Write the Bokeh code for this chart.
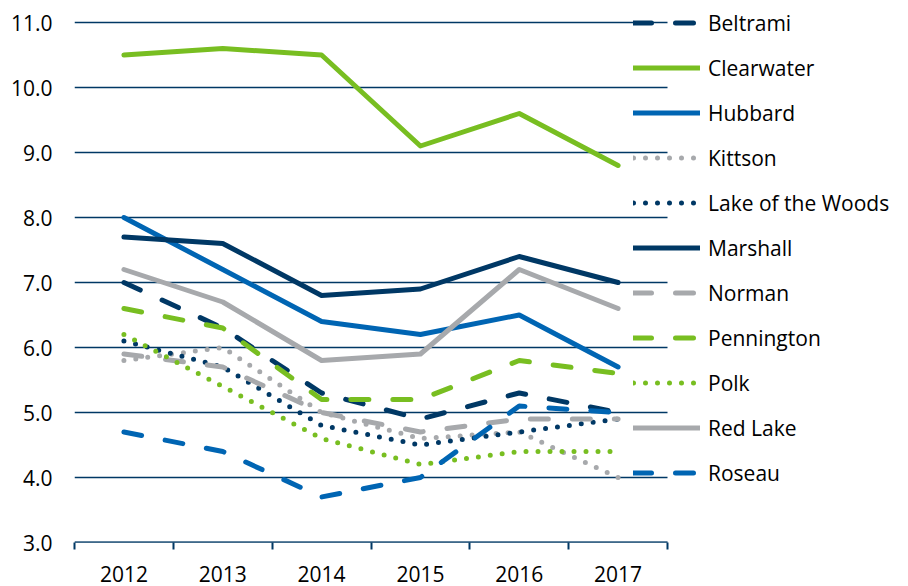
from bokeh.plotting import figure
from bokeh.models import (Range1d, FixedTicker, NumeralTickFormatter, Legend,
                          LegendItem, ColumnDataSource)
from bokeh.embed import file_html
from bokeh.resources import INLINE

years = ["2012", "2013", "2014", "2015", "2016", "2017"]
y_ticks = [3, 4, 5, 6, 7, 8, 9, 10, 11]

beltrami = [7.0, 6.3, 5.3, 4.9, 5.3, 5.0]
clearwater = [10.5, 10.6, 10.5, 9.1, 9.6, 8.8]
hubbard = [8.0, 7.2, 6.4, 6.2, 6.5, 5.7]
kittson = [5.8, 6.0, 5.0, 4.6, 4.7, 4.0]
lake_of_the_woods = [6.1, 5.7, 4.8, 4.5, 4.7, 4.9]
marshall = [7.7, 7.6, 6.8, 6.9, 7.4, 7.0]
norman = [5.9, 5.7, 5.0, 4.7, 4.9, 4.9]
pennington = [6.6, 6.3, 5.2, 5.2, 5.8, 5.6]
polk = [6.2, 5.4, 4.6, 4.2, 4.4, 4.4]
red_lake = [7.2, 6.7, 5.8, 5.9, 7.2, 6.6]
roseau = [4.7, 4.4, 3.7, 4.0, 5.1, 5.0]

NAVY = "#003865"
GREEN = "#78BE21"
BLUE = "#0065B3"
GRAY = "#A7A9AC"
DASH = "18 24"
DOT = "0 12"

series = [
    ("Beltrami", beltrami, NAVY, DASH),
    ("Clearwater", clearwater, GREEN, "solid"),
    ("Hubbard", hubbard, BLUE, "solid"),
    ("Kittson", kittson, GRAY, DOT),
    ("Lake of the Woods", lake_of_the_woods, NAVY, DOT),
    ("Marshall", marshall, NAVY, "solid"),
    ("Norman", norman, GRAY, DASH),
    ("Pennington", pennington, GREEN, DASH),
    ("Polk", polk, GREEN, DOT),
    ("Red Lake", red_lake, GRAY, "solid"),
    ("Roseau", roseau, BLUE, DASH),
]

FONT = "Open Sans"

# layout (pixels)
W, H = 892, 586
LEFT, BOTTOM = 74, 44
DATA_W = 593          # width of the plotting area covered by the categories
PX_PER_UNIT_Y = 65    # pixels per 1.0 on the y axis

frame_w = W - LEFT
frame_h = H - BOTTOM
n = len(years)
x_end = n * frame_w / DATA_W
y_lo = min(y_ticks)
y_end = y_lo + frame_h / PX_PER_UNIT_Y

p = figure(width=W, height=H, output_backend="svg", toolbar_location=None,
           x_range=Range1d(0, x_end), y_range=Range1d(y_lo, y_end),
           min_border_left=LEFT, min_border_right=0, min_border_top=0,
           min_border_bottom=BOTTOM)
p.outline_line_color = None
p.background_fill_color = "white"
p.border_fill_color = "white"
p.xgrid.grid_line_color = None
p.ygrid.grid_line_color = None

# horizontal gridlines only across the category area
p.segment(x0=[0] * len(y_ticks), x1=[n] * len(y_ticks), y0=y_ticks, y1=y_ticks,
          line_color=NAVY, line_width=1.5)
# x axis line
p.segment(x0=[0], x1=[n], y0=[y_lo], y1=[y_lo], line_color=NAVY, line_width=2)

xs = [i + 0.5 for i in range(n)]

items = []
for name, vals, color, dash in series:
    src = ColumnDataSource(dict(x=xs, y=vals))
    r = p.line("x", "y", source=src, line_color=color, line_width=5,
               line_dash=dash, line_cap="round", line_join="round")
    items.append(LegendItem(label=name, renderers=[r]))

# x axis
xa = p.xaxis[0]
xa.ticker = FixedTicker(ticks=xs, minor_ticks=list(range(n + 1)))
xa.major_label_overrides = {x: y for x, y in zip(xs, years)}
xa.major_tick_out = 0
xa.major_tick_in = 0
xa.minor_tick_out = 7
xa.minor_tick_in = 0
xa.minor_tick_line_color = NAVY
xa.minor_tick_line_width = 2
xa.axis_line_color = None
xa.major_label_text_font = FONT
xa.major_label_text_font_size = "21px"
xa.major_label_text_color = "#000000"
xa.major_label_standoff = 16

# y axis
ya = p.yaxis[0]
ya.ticker = FixedTicker(ticks=y_ticks)
ya.formatter = NumeralTickFormatter(format="0.0")
ya.axis_line_color = None
ya.major_tick_out = 0
ya.major_tick_in = 0
ya.major_tick_line_color = None
ya.minor_tick_line_color = None
ya.major_label_text_font = FONT
ya.major_label_text_font_size = "21px"
ya.major_label_text_color = "#000000"
ya.major_label_standoff = 22

legend = Legend(items=items, location=(559, 47), orientation="vertical",
                glyph_width=67, glyph_height=45, label_height=45, spacing=0,
                label_standoff=8, padding=0, margin=0,
                border_line_color=None, background_fill_alpha=0,
                label_text_font=FONT, label_text_font_size="21px",
                label_text_color="#000000")
p.add_layout(legend, "center")

open("out.html", "w").write(file_html(p, INLINE))
